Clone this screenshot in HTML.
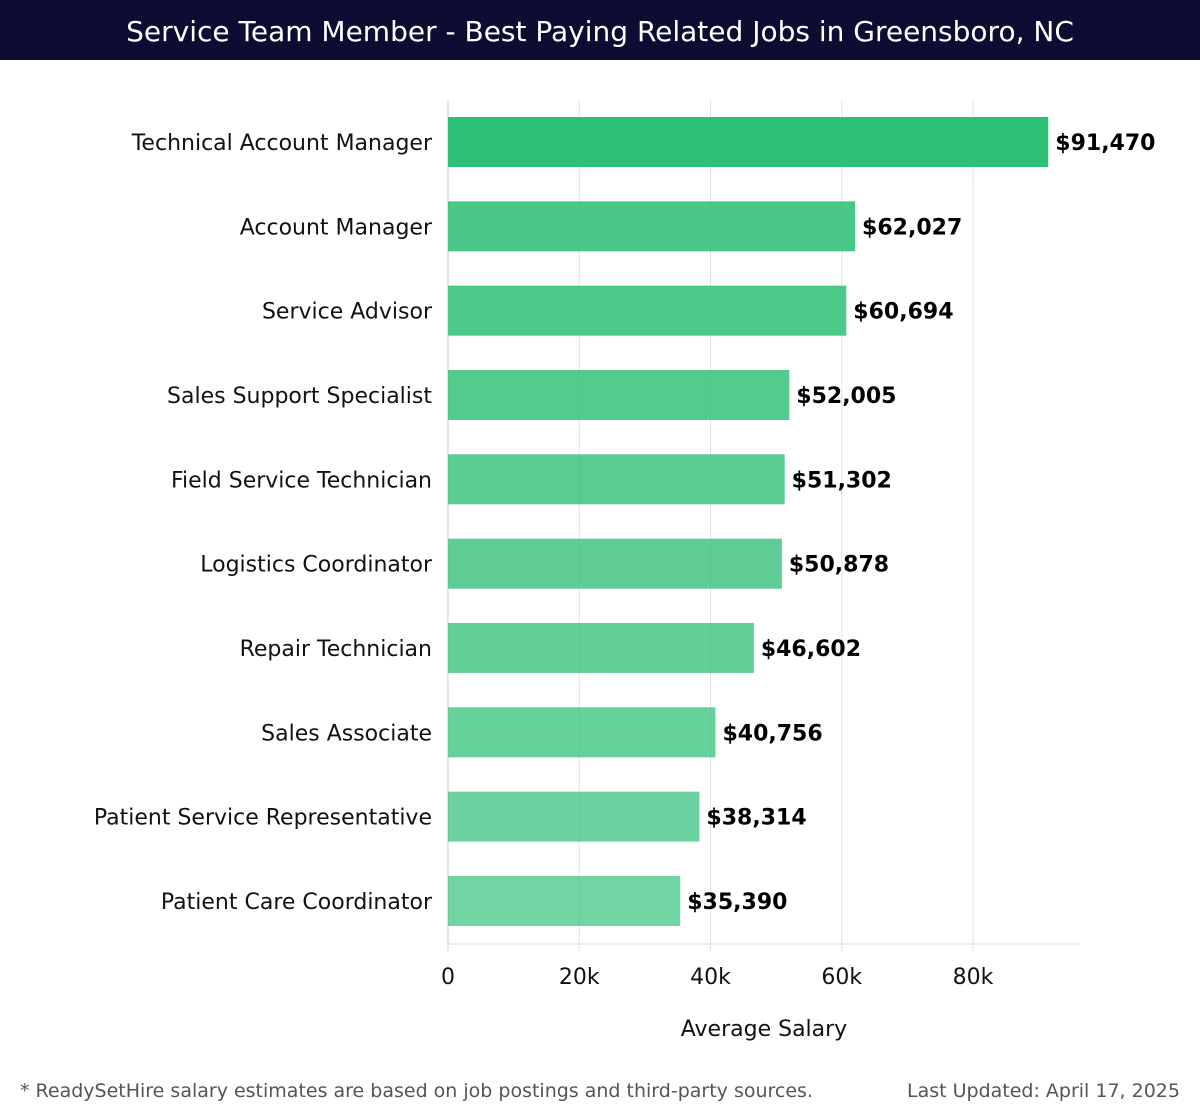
<!DOCTYPE html>
<html><head><meta charset="utf-8"><style>
body{margin:0;width:1200px;height:1120px;background:#fff;font-family:"DejaVu Sans","Liberation Sans",sans-serif;overflow:hidden}
#hdr{position:absolute;left:0;top:0;width:1200px;height:60px;background:#0d0c33;color:#fff;font-size:28px;line-height:64px;text-align:center}
.ft{position:absolute;top:1080px;font-size:19px;color:#555}
</style></head><body>
<div id="hdr">Service Team Member - Best Paying Related Jobs in Greensboro, NC</div>
<svg id="c" width="1200" height="1070" style="position:absolute;left:0;top:0"></svg>
<div class="ft" style="left:20px">* ReadySetHire salary estimates are based on job postings and third-party sources.</div>
<div class="ft" style="right:20px">Last Updated: April 17, 2025</div>
<script>
const categories=["Technical Account Manager","Account Manager","Service Advisor","Sales Support Specialist","Field Service Technician","Logistics Coordinator","Repair Technician","Sales Associate","Patient Service Representative","Patient Care Coordinator"];
const values=[91470,62027,60694,52005,51302,50878,46602,40756,38314,35390];
const valueLabels=["$91,470","$62,027","$60,694","$52,005","$51,302","$50,878","$46,602","$40,756","$38,314","$35,390"];
const ticks=[0,20000,40000,60000,80000];
const tickLabels=["0","20k","40k","60k","80k"];
const svg=document.getElementById('c');const NS="http://www.w3.org/2000/svg";
const x0=448,pxPer=131.25/20000;const x=v=>x0+v*pxPer;
const yTop=100,yBot=944,step=84.33,first=142;const y=i=>first+i*step;
function mk(t,a,txt){const e=document.createElementNS(NS,t);for(const k in a)e.setAttribute(k,a[k]);if(txt!=null)e.textContent=txt;svg.appendChild(e);return e;}
ticks.forEach((t,i)=>{
 const g=mk('line',{x1:x(t),x2:x(t),y1:yTop,y2:951,stroke:i==0?'#ccc':'#e3e3e3','stroke-width':1});
 
 
 const l=mk('text',{x:x(t),y:984,'text-anchor':'middle','font-size':22,fill:'#111'},tickLabels[i]);
 
 
});
const ax=mk('line',{x1:x0,x2:1080,y1:944,y2:944,stroke:'#ddd'});


const at=mk('text',{x:764,y:1036,'text-anchor':'middle','font-size':22,fill:'#111'},'Average Salary');


categories.forEach((c,i)=>{
 const cy=y(i);
 const r=mk('rect',{x:x0,y:cy-25,width:x(values[i])-x0,height:50,fill:'#2ebf76','fill-opacity':i==0?1:(0.9-i*0.025)});
 
 
 const l=mk('text',{x:432,y:cy+8,'text-anchor':'end','font-size':22,fill:'#111'},c);
 
 
 const v=mk('text',{x:x(values[i])+7,y:cy+8,'font-size':22,'font-weight':'bold',fill:'#000'},valueLabels[i]);
 
 
});
</script>
</body></html>
